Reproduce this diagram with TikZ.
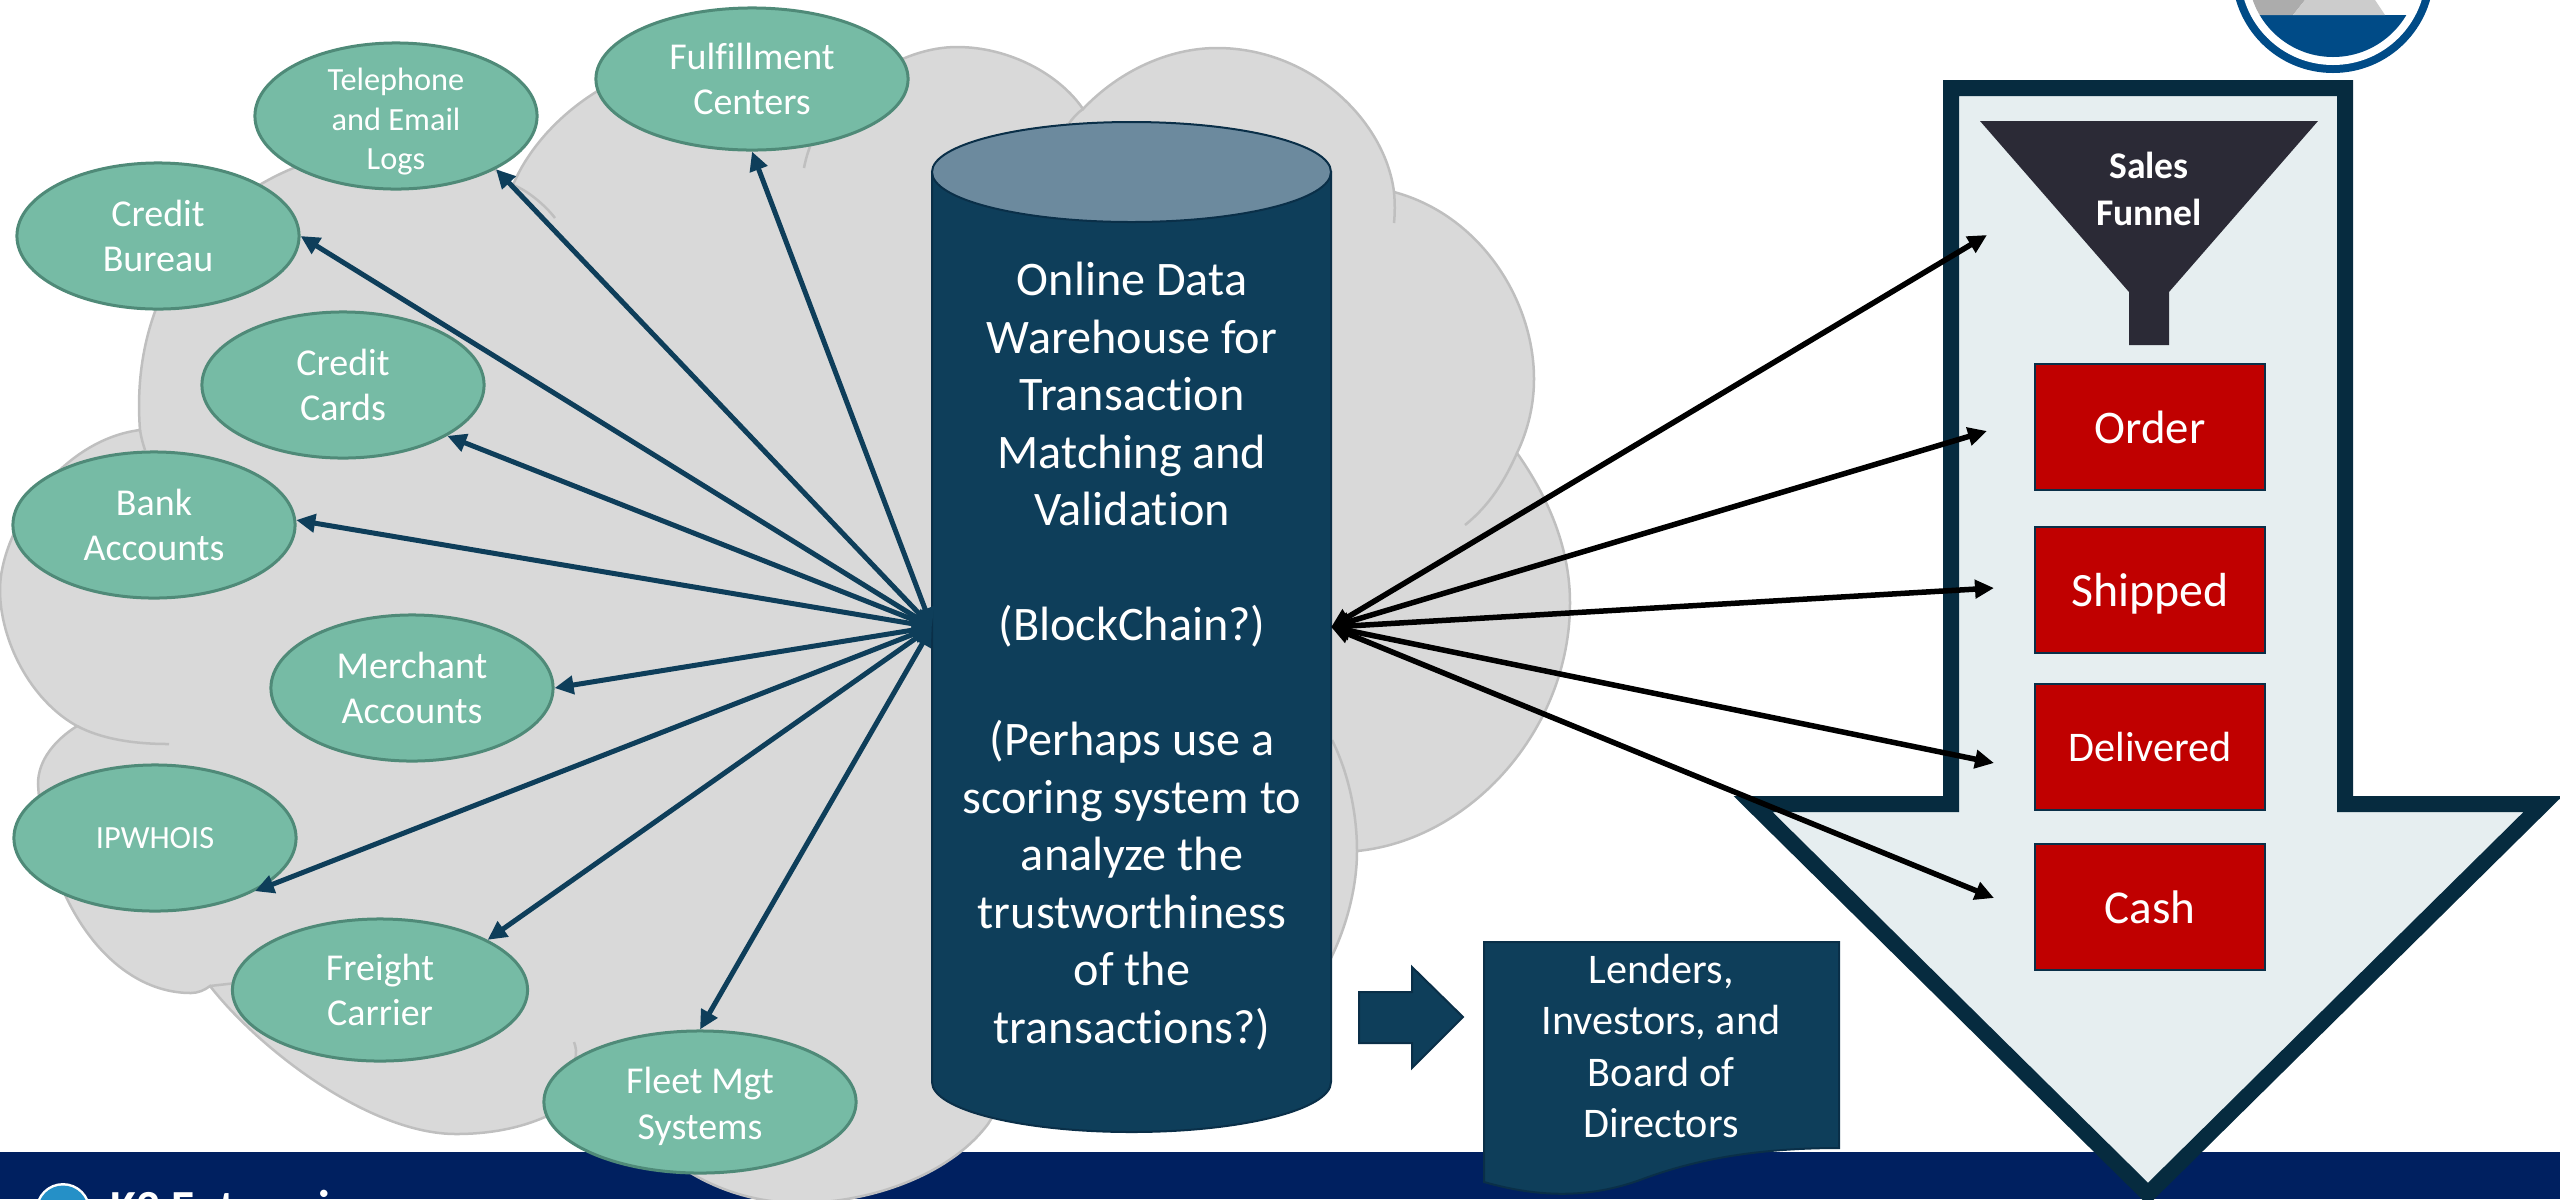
\documentclass[tikz,border=0pt]{standalone}
\usepackage{fontspec}
\setmainfont[Ligatures=NoCommon]{Carlito}
\usetikzlibrary{arrows.meta,shapes.geometric}

\definecolor{navyband}{HTML}{002060}
\definecolor{cloudfill}{HTML}{D9D9D9}
\definecolor{cloudline}{HTML}{BFBFBF}
\definecolor{sourcefill}{HTML}{76BBA5}
\definecolor{sourceline}{HTML}{4F8A78}
\definecolor{deepblue}{HTML}{0E3E5A}
\definecolor{deepline}{HTML}{0A2F48}
\definecolor{lidblue}{HTML}{6C8A9E}
\definecolor{funnelline}{HTML}{062B3F}
\definecolor{funnelfill}{HTML}{E6EEF0}
\definecolor{funneldark}{HTML}{2B2A36}
\definecolor{stagered}{HTML}{C00000}
\definecolor{logoblue}{HTML}{004B87}
\definecolor{brandblue}{HTML}{2590C7}

\tikzset{
  source/.style={ellipse,draw=sourceline,line width=.03cm,fill=sourcefill,text=white,inner sep=0pt,
    minimum width=2.82cm,minimum height=1.46cm,align=center,font=\fontsize{10.8}{13}\selectfont},
  smallsource/.style={source,font=\fontsize{9.2}{11.2}\selectfont},
  stage/.style={rectangle,draw=deepline,line width=.025cm,fill=stagered,text=white,text depth=0pt,
    minimum width=2.3cm,minimum height=1.26cm,inner sep=0pt},
  feed/.style={{Triangle[length=.19cm,width=.18cm]}-{Triangle[length=.19cm,width=.18cm]},line width=.05cm,deepblue},
  sale/.style={{Triangle[length=.19cm,width=.18cm]}-{Triangle[length=.19cm,width=.18cm]},line width=.055cm,black},
  tail/.style={cloudline,line width=.025cm},
}

\begin{document}
\begin{tikzpicture}[x=.01cm,y=-.01cm]
\path[use as bounding box,clip] (0,0) rectangle (2560,1199);

\fill[navyband] (0,1152) rectangle (2560,1199);

% cloud
\draw[draw=cloudline,line width=.025cm,fill=cloudfill]
  (140,430) .. controls (130,300)  and (200,205)   .. (296,167)
  .. controls (380,130)  and (470,140)   .. (513,185)
  .. controls (540,120)  and (620,60)    .. (700,60)
  .. controls (760,60)   and (800,90)    .. (815,135)
  .. controls (840,90)   and (900,47)    .. (957,47)
  .. controls (1010,47)  and (1060,75)   .. (1083,109)
  .. controls (1120,70)  and (1170,48)   .. (1217,48)
  .. controls (1310,48)  and (1385,120)  .. (1394,192)
  .. controls (1480,215) and (1534,300)  .. (1534,379)
  .. controls (1534,405) and (1528,430)  .. (1517,453)
  .. controls (1550,500) and (1570,550)  .. (1570,603)
  .. controls (1570,730) and (1470,840)  .. (1357,851)
  .. controls (1357,890) and (1345,930)  .. (1330,960)
  .. controls (1250,1000) and (1050,1020) .. (988,1124)
  .. controls (950,1175) and (870,1203)  .. (800,1203)
  .. controls (740,1203) and (690,1178)  .. (660,1150)
  .. controls (630,1125) and (600,1100)  .. (575,1105)
  .. controls (565,1110) and (555,1113)  .. (545,1117)
  .. controls (520,1128) and (490,1134)  .. (456,1134)
  .. controls (370,1134) and (260,1050)  .. (210,986)
  .. controls (205,990)  and (198,993)   .. (191,993)
  .. controls (110,993)  and (45,900)    .. (38,784)
  .. controls (38,760)   and (55,740)    .. (77,726)
  .. controls (30,700)   and (0,640)     .. (0,590)
  .. controls (0,530)    and (60,440)    .. (140,430) -- cycle;
\draw[tail] (140,430)  .. controls (141,437)  and (143,444)  .. (145,450);
\draw[tail] (513,185)  .. controls (527,190)  and (545,205)  .. (555,218);
\draw[tail] (815,135)  .. controls (810,145)  and (806,157)  .. (804,168);
\draw[tail] (1083,109) .. controls (1077,113) and (1072,119) .. (1068,125);
\draw[tail] (1394,192) .. controls (1395,203) and (1395,213) .. (1394,223);
\draw[tail] (1517,453) .. controls (1505,480) and (1490,505) .. (1465,525);
\draw[tail] (1357,851) .. controls (1357,810) and (1347,770) .. (1332,740);
\draw[tail] (77,726)   .. controls (100,738)  and (130,744)  .. (169,744);
\draw[tail] (210,986)  .. controls (218,985)  and (228,984)  .. (236,983);
\draw[tail] (575,1060) .. controls (577,1053) and (576,1047) .. (574,1042);

% sales funnel arrow
\draw[draw=funnelline,line width=.16cm,fill=funnelfill,miter limit=10]
  (1951,88) -- (2345,88) -- (2345,804) -- (2543,804) -- (2148,1194) -- (1753,804) -- (1951,804) -- cycle;
\fill[funneldark] (1980,121) -- (2318,121) -- (2169,292) -- (2169,345) -- (2129,345) -- (2129,292) -- cycle;
\node (funnel) at (2149,189) [text=white,align=center,font=\fontsize{10.7}{13.4}\selectfont\bfseries] {Sales\\Funnel};

\node[stage,font=\fontsize{13.3}{16}\selectfont] (order)     at (2150,427) {Order};
\node[stage,font=\fontsize{13.6}{16}\selectfont] (shipped)   at (2150,590) {Shipped};
\node[stage,font=\fontsize{12}{14}\selectfont]   (delivered) at (2150,747) {Delivered};
\node[stage,font=\fontsize{13.4}{15}\selectfont] (cash)      at (2150,907) {Cash};

% logo
\begin{scope}
\fill[logoblue] (2333,-28) circle (101);
\fill[white] (2333,-28) circle (93);
\clip (2333,-28) circle (85);
\fill[logoblue] (2240,15) rectangle (2430,70);
\fill[gray!65] (2240,0) -- (2305,0) -- (2293,15) -- (2240,15) -- cycle;
\fill[gray!40] (2305,0) -- (2375,0) -- (2385,15) -- (2293,15) -- cycle;
\end{scope}

% warehouse
\draw[draw=deepline,line width=.02cm,fill=deepblue] (932,172) -- (932,1082) arc[start angle=180,end angle=0,x radius=199.5,y radius=50] -- (1331,172) -- cycle;
\draw[draw=deepline,line width=.02cm,fill=lidblue] (1131.5,172) ellipse [x radius=199.5,y radius=50];
\node[minimum width=3.99cm,minimum height=10.1cm,inner sep=0pt,outer sep=0pt] (warehouse) at (1131.5,627) {};
\node (warehousetext) at (1132,656) [text=white,align=center,font=\fontsize{13.7}{16.35}\selectfont]
  {Online Data\\Warehouse for\\Transaction\\Matching and\\Validation\\[16.35pt](BlockChain?)\\[16.35pt](Perhaps use a\\scoring system to\\analyze the\\trustworthiness\\of the\\transactions?)};

% lenders
\draw[draw=deepline,line width=.02cm,fill=deepblue] (1359,992) -- (1412,992) -- (1412,967) -- (1463,1017) -- (1412,1068) -- (1412,1043) -- (1359,1043) -- cycle;
\draw[draw=deepline,line width=.02cm,fill=deepblue] (1484,942) -- (1839,942) -- (1839,1148)
  .. controls (1740,1148) and (1680,1165) .. (1640,1180)
  .. controls (1590,1198) and (1540,1198) .. (1484,1182) -- cycle;
\node (lenders) at (1661,1046) [text=white,align=center,font=\fontsize{12}{14.6}\selectfont] {Lenders,\\Investors, and\\Board of\\Directors};

% footer
\fill[white] (63,1210.5) circle (27.5);
\fill[brandblue] (63,1210.5) circle (25);
\node[anchor=base west,text=white,font=\fontsize{13.5}{16}\selectfont\bfseries,inner sep=0pt] (brand) at (110,1223) {K2 Enterprises};

% data sources
\node[source,minimum width=3.12cm,minimum height=1.42cm] (fulfillment) at (752,79) {Fulfillment\\Centers};
\node[smallsource,inner ysep=-.3cm] (telephone) at (396,116)  {\rule{0pt}{9.7pt}Telephone\\and Email\\Logs};
\node[source] (bureau)      at (158,236)  {Credit\\Bureau};
\node[source] (cards)       at (343,385)  {Credit\\Cards};
\node[source] (bank)        at (154,525)  {Bank\\Accounts};
\node[source] (merchant)    at (412,688)  {Merchant\\Accounts};
\node[smallsource] (ipwhois) at (155,838) {IPWHOIS};
\node[source,minimum width=2.95cm,minimum height=1.42cm] (freight) at (380,990)  {Freight\\Carrier};
\node[source,minimum width=3.12cm,minimum height=1.42cm] (fleet)   at (700,1102) {\rule{0pt}{10pt}Fleet Mgt\\Systems};

\draw[feed] (warehouse.west) -- (fulfillment.south);
\draw[feed] (warehouse.west) -- (telephone.-28.5);
\draw[feed] (warehouse.west) -- (bureau.east);
\draw[feed] (warehouse.west) -- (cards.-26.4);
\draw[feed] (warehouse.west) -- (bank.2);
\draw[feed] (warehouse.west) -- (merchant.east);
\draw[feed] (warehouse.west) -- (ipwhois.-28.4);
\draw[feed] (warehouse.west) -- (freight.25.5);
\draw[feed] (warehouse.west) -- (fleet.north);

\coordinate (topend)  at (1987,235);
\coordinate (funend)  at (1987,431);
\coordinate (shipend) at (1994,588);
\coordinate (delend)  at (1994,763);
\coordinate (cashend) at (1994,898);

\draw[sale] (warehouse.east) -- (topend);
\draw[sale] (warehouse.east) -- (funend);
\draw[sale] (warehouse.east) -- (shipend);
\draw[sale] (warehouse.east) -- (delend);
\draw[sale] (warehouse.east) -- (cashend);
\end{tikzpicture}
\end{document}
